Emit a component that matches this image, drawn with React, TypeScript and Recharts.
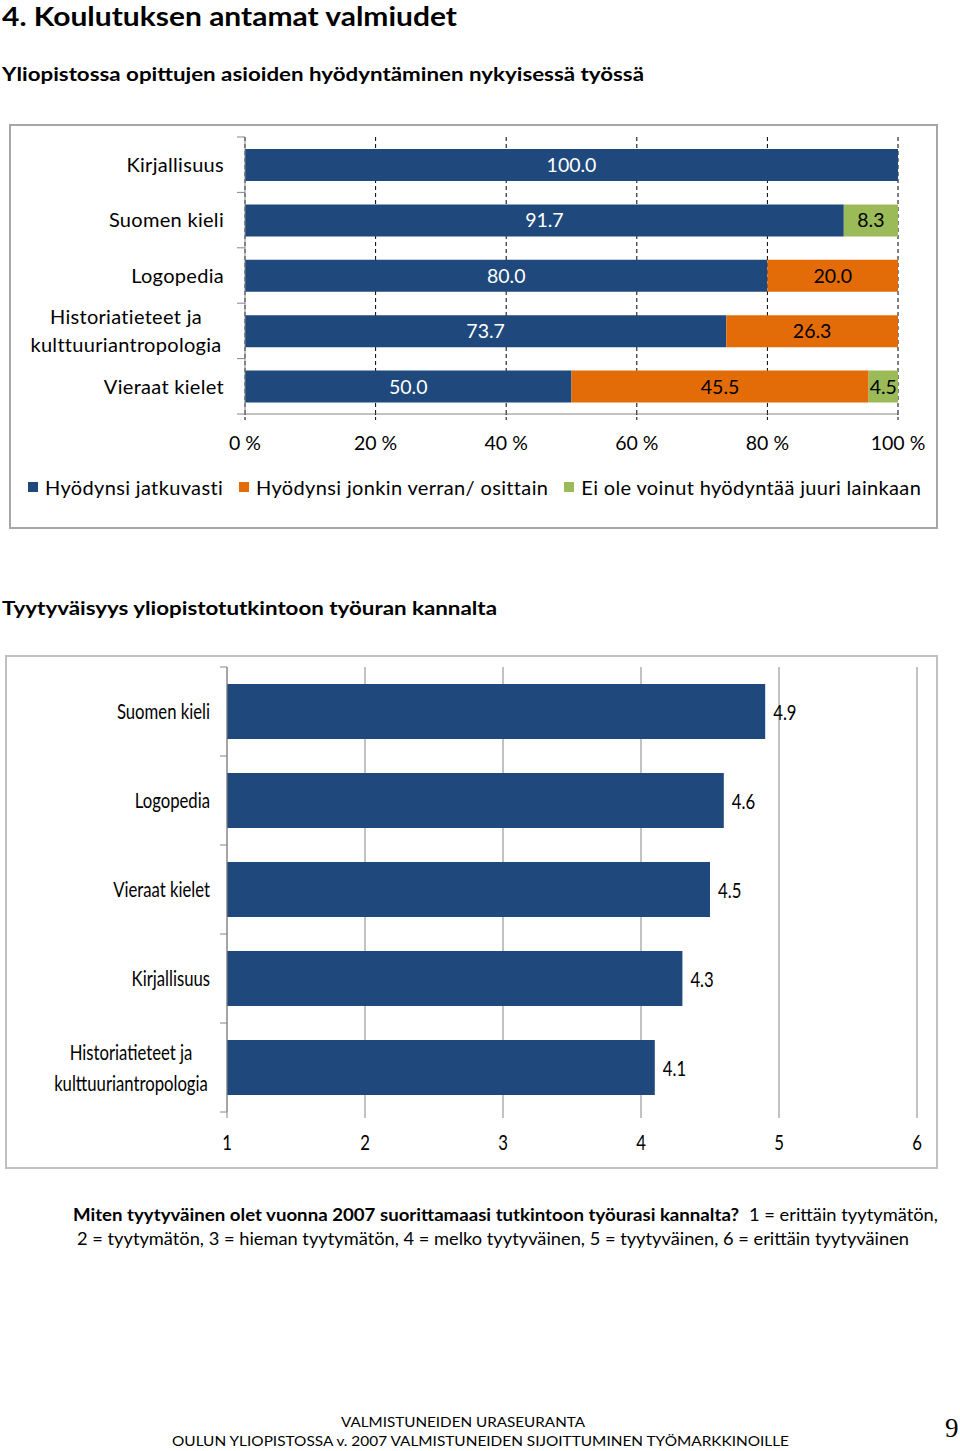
import React from 'react';
import { BarChart, Bar, XAxis, YAxis, CartesianGrid, LabelList } from 'recharts';

// ---------- data ----------
const usageCategories = [
  'Kirjallisuus',
  'Suomen kieli',
  'Logopedia',
  'Historiatieteet ja kulttuuriantropologia',
  'Vieraat kielet',
];
const usageContinuous = [100.0, 91.7, 80.0, 73.7, 50.0];
const usagePartly: (number | null)[] = [null, null, 20.0, 26.3, 45.5];
const usageNotAtAll: (number | null)[] = [null, 8.3, null, null, 4.5];
const usageSeriesNames = [
  'Hyödynsi jatkuvasti',
  'Hyödynsi jonkin verran/ osittain',
  'Ei ole voinut hyödyntää juuri lainkaan',
];
const percentTicks = [0, 20, 40, 60, 80, 100];

const satisfactionCategories = [
  'Suomen kieli',
  'Logopedia',
  'Vieraat kielet',
  'Kirjallisuus',
  'Historiatieteet ja kulttuuriantropologia',
];
const satisfactionValues = [4.9, 4.6, 4.5, 4.3, 4.1];
const scaleTicks = [1, 2, 3, 4, 5, 6];

const pageTitle = '4. Koulutuksen antamat valmiudet';
const usageTitle = 'Yliopistossa opittujen asioiden hyödyntäminen nykyisessä työssä';
const satisfactionTitle = 'Tyytyväisyys yliopistotutkintoon työuran kannalta';
const noteQuestion = 'Miten tyytyväinen olet vuonna 2007 suorittamaasi tutkintoon työurasi kannalta?';
const noteScale1 = '1 = erittäin tyytymätön,';
const noteScale2 = '2 = tyytymätön, 3 = hieman tyytymätön, 4 = melko tyytyväinen, 5 = tyytyväinen, 6 = erittäin tyytyväinen';
const footer1 = 'VALMISTUNEIDEN URASEURANTA';
const footer2 = 'OULUN  YLIOPISTOSSA v. 2007 VALMISTUNEIDEN  SIJOITTUMINEN TYÖMARKKINOILLE';
const pageNumber = '9';

// ---------- styles ----------
const FONT = "Lato, 'Open Sans', sans-serif";
const BLUE = '#1f497d';
const ORANGE = '#e36c09';
const GREEN = '#9bbb59';
const AXIS = '#868686';
const seriesColors = [BLUE, ORANGE, GREEN];
const NARROW_SCALE = 0.76;

const usageData = usageCategories.map((name, i) => ({
  name,
  jatkuvasti: usageContinuous[i],
  osittain: usagePartly[i],
  eiOle: usageNotAtAll[i],
}));
const satisfactionData = satisfactionCategories.map((name, i) => ({
  name,
  value: satisfactionValues[i],
}));

function wrapLabel(text: string, max = 18): string[] {
  const words = text.split(' ');
  const lines: string[] = [];
  let cur = '';
  for (const w of words) {
    if (cur && (cur + ' ' + w).length > max) {
      lines.push(cur);
      cur = w;
    } else {
      cur = cur ? cur + ' ' + w : w;
    }
  }
  if (cur) lines.push(cur);
  return lines;
}

type STextProps = {
  x: number;
  y: number;
  anchor: 'start' | 'middle' | 'end';
  fontSize: number;
  scaleX: number;
  letterSpacing?: number;
  dy?: string;
  fill?: string;
  children: React.ReactNode;
};

function SText({ x, y, anchor, fontSize, scaleX, letterSpacing = 0, dy = '0.36em', fill = '#000', children }: STextProps) {
  return (
    <g transform={`translate(${x},${y}) scale(${scaleX},1)`}>
      <text
        x={0}
        y={0}
        dy={dy}
        textAnchor={anchor}
        fontFamily={FONT}
        fontSize={fontSize}
        letterSpacing={letterSpacing}
        fill={fill}
      >
        {children}
      </text>
    </g>
  );
}

type TickOpts = {
  band: number;
  gap: number;
  fontSize: number;
  scaleX: number;
  letterSpacing: number;
  lineHeight: number;
  markLen: number;
  multiHalf: number;
  count: number;
};

function makeCategoryTick(o: TickOpts) {
  return (props: any) => {
    const { x, y, payload, index } = props;
    const lines = wrapLabel(String(payload.value));
    const half = o.band / 2;
    const n = lines.length;
    return (
      <g>
        <line x1={x - o.markLen} x2={x} y1={y - half} y2={y - half} stroke={AXIS} strokeWidth={1} />
        {index === o.count - 1 && (
          <line x1={x - o.markLen} x2={x} y1={y + half} y2={y + half} stroke={AXIS} strokeWidth={1} />
        )}
        {n === 1 ? (
          <SText x={x - o.gap} y={y} anchor="end" fontSize={o.fontSize} scaleX={o.scaleX} letterSpacing={o.letterSpacing}>
            {lines[0]}
          </SText>
        ) : (
          lines.map((l, i) => (
            <SText
              key={i}
              x={x - o.gap - o.multiHalf}
              y={y + (i - (n - 1) / 2) * o.lineHeight}
              anchor="middle"
              fontSize={o.fontSize}
              scaleX={o.scaleX}
              letterSpacing={o.letterSpacing}
            >
              {l}
            </SText>
          ))
        )}
      </g>
    );
  };
}

const fmt1 = (v: any) => (v == null || v === 0 ? '' : Number(v).toFixed(1));

// ---------- charts ----------
function UsageChart() {
  const topTick = makeCategoryTick({
    band: 277 / usageCategories.length,
    gap: 21,
    fontSize: 20,
    scaleX: 1,
    letterSpacing: 0.3,
    lineHeight: 28,
    markLen: 8,
    multiHalf: 98,
    count: usageCategories.length,
  });
  const labelStyle = { fontSize: 19.5, fontFamily: FONT };
  return (
    <BarChart
      width={960}
      height={340}
      data={usageData}
      layout="vertical"
      margin={{ top: 17, right: 62, bottom: 3, left: 10 }}
    >
      <CartesianGrid horizontal={false} vertical stroke="#000" strokeDasharray="4 3" />
      <XAxis
        type="number"
        domain={[0, 100]}
        ticks={percentTicks}
        interval={0}
        tickFormatter={(v) => `${v} %`}
        axisLine={{ stroke: AXIS }}
        tickLine={{ stroke: '#000', strokeDasharray: '3 2' }}
        tickSize={6}
        tickMargin={16}
        height={43}
        tick={{ fill: '#000', fontSize: 19.5, fontFamily: FONT }}
      />
      <YAxis
        type="category"
        dataKey="name"
        width={235}
        interval={0}
        tickSize={0}
        tickMargin={0}
        tickLine={false}
        axisLine={{ stroke: AXIS }}
        tick={topTick}
      />
      <Bar dataKey="jatkuvasti" stackId="s" fill={BLUE} barSize={32} isAnimationActive={false}>
        <LabelList dataKey="jatkuvasti" position="center" fill="#fff" formatter={fmt1} style={labelStyle} />
      </Bar>
      <Bar dataKey="osittain" stackId="s" fill={ORANGE} barSize={32} isAnimationActive={false}>
        <LabelList dataKey="osittain" position="center" fill="#000" formatter={fmt1} style={labelStyle} />
      </Bar>
      <Bar dataKey="eiOle" stackId="s" fill={GREEN} barSize={32} isAnimationActive={false}>
        <LabelList dataKey="eiOle" position="center" fill="#000" formatter={fmt1} style={labelStyle} />
      </Bar>
    </BarChart>
  );
}

function SatisfactionChart() {
  const tick = makeCategoryTick({
    band: 445 / satisfactionCategories.length,
    gap: 17,
    fontSize: 22,
    scaleX: NARROW_SCALE,
    letterSpacing: 0,
    lineHeight: 31,
    markLen: 7,
    multiHalf: 79,
    count: satisfactionCategories.length,
  });
  const xTick = (p: any) => (
    <SText x={p.x} y={p.y} anchor="middle" dy="0.71em" fontSize={22} scaleX={NARROW_SCALE}>
      {p.payload.value}
    </SText>
  );
  const valueLabel = (p: any) => {
    const vb = p.viewBox && p.viewBox.width != null ? p.viewBox : p;
    const text = fmt1(p.value);
    if (!text) return null;
    return (
      <SText x={vb.x + vb.width + 8} y={vb.y + vb.height / 2 + 1} anchor="start" fontSize={22} scaleX={NARROW_SCALE}>
        {text}
      </SText>
    );
  };
  return (
    <BarChart
      width={960}
      height={520}
      data={satisfactionData}
      layout="vertical"
      margin={{ top: 27, right: 43, bottom: 3, left: 0 }}
    >
      <CartesianGrid horizontal={false} vertical stroke={AXIS} />
      <XAxis
        type="number"
        domain={[1, 6]}
        ticks={scaleTicks}
        interval={0}
        axisLine={false}
        tickLine={{ stroke: AXIS }}
        tickSize={6}
        tickMargin={16}
        height={45}
        tick={xTick}
      />
      <YAxis
        type="category"
        dataKey="name"
        width={227}
        interval={0}
        tickSize={0}
        tickMargin={0}
        tickLine={false}
        axisLine={{ stroke: AXIS }}
        tick={tick}
      />
      <Bar dataKey="value" fill={BLUE} barSize={55} isAnimationActive={false}>
        <LabelList dataKey="value" content={valueLabel} />
      </Bar>
    </BarChart>
  );
}

function UsageLegend() {
  return (
    <div
      style={{
        position: 'absolute',
        left: 28,
        top: 476,
        display: 'flex',
        alignItems: 'center',
        fontFamily: FONT,
        fontSize: 20,
        letterSpacing: '0.35px',
        lineHeight: '22px',
        color: '#000',
        whiteSpace: 'nowrap',
      }}
    >
      {usageSeriesNames.map((name, i) => (
        <div key={name} style={{ display: 'flex', alignItems: 'center', marginRight: 16 }}>
          <span style={{ display: 'inline-block', width: 10, height: 10, background: seriesColors[i], marginRight: 7 }} />
          <span>{name}</span>
        </div>
      ))}
    </div>
  );
}

export default function App() {
  return (
    <div
      style={{
        position: 'absolute',
        left: 0,
        top: 0,
        width: 960,
        height: 1451,
        background: '#fff',
        overflow: 'hidden',
        fontFamily: FONT,
      }}
    >
      <svg width={960} height={1451} style={{ position: 'absolute', left: 0, top: 0 }}>
        <rect x={10} y={125} width={927} height={403} fill="none" stroke="#a6a6a6" strokeWidth={2} />
        <rect x={6} y={656} width={931} height={512} fill="none" stroke="#c0c0c0" strokeWidth={2} />
        <text x={2} y={26} fontFamily={FONT} fontWeight="bold" fontSize={26.5} textLength={455} lengthAdjust="spacingAndGlyphs" fill="#000">
          {pageTitle}
        </text>
        <text x={2} y={81} fontFamily={FONT} fontWeight="bold" fontSize={19.5} textLength={642} lengthAdjust="spacingAndGlyphs" fill="#000">
          {usageTitle}
        </text>
        <text x={2} y={615} fontFamily={FONT} fontWeight="bold" fontSize={19.5} textLength={495} lengthAdjust="spacingAndGlyphs" fill="#000">
          {satisfactionTitle}
        </text>
        <text x={73} y={1221} fontFamily={FONT} fontWeight="bold" fontSize={16.5} textLength={666} lengthAdjust="spacingAndGlyphs" fill="#000">
          {noteQuestion}
        </text>
        <text x={749} y={1221} fontFamily={FONT} fontSize={16.5} textLength={189} lengthAdjust="spacingAndGlyphs" fill="#000">
          {noteScale1}
        </text>
        <text x={77} y={1245} fontFamily={FONT} fontSize={16.5} textLength={832} lengthAdjust="spacingAndGlyphs" fill="#000">
          {noteScale2}
        </text>
        <text x={341} y={1427} fontFamily={FONT} fontSize={14} textLength={244} lengthAdjust="spacingAndGlyphs" fill="#000">
          {footer1}
        </text>
        <text x={172} y={1446} fontFamily={FONT} fontSize={14} textLength={617} lengthAdjust="spacingAndGlyphs" fill="#000">
          {footer2}
        </text>
        <text x={945} y={1437} fontFamily="'Liberation Serif', serif" fontSize={27} fill="#000">
          {pageNumber}
        </text>
      </svg>
      <div style={{ position: 'absolute', left: 0, top: 120 }}>
        <UsageChart />
      </div>
      <UsageLegend />
      <div style={{ position: 'absolute', left: 0, top: 640 }}>
        <SatisfactionChart />
      </div>
    </div>
  );
}
